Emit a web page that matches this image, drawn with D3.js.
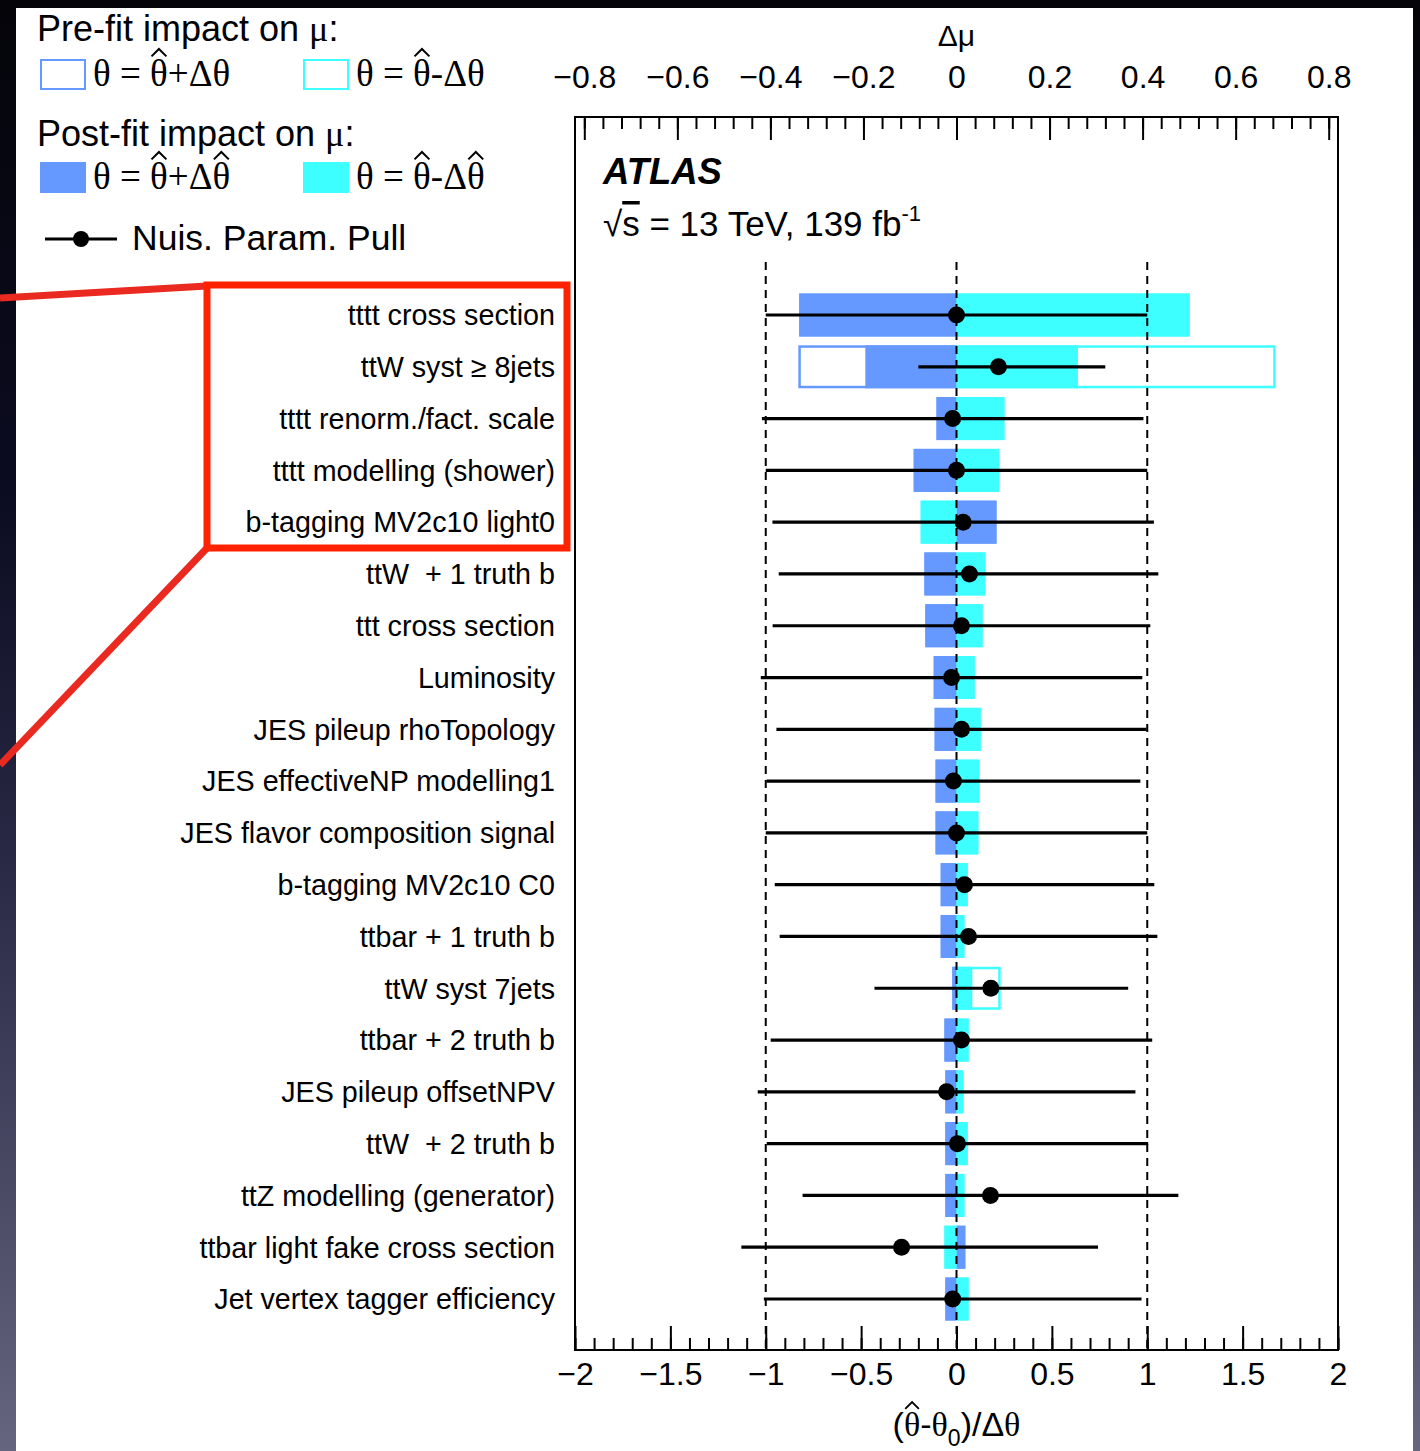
<!DOCTYPE html>
<html>
<head>
<meta charset="utf-8">
<script src="https://cdn.jsdelivr.net/npm/d3@7"></script>
<style>
  body { margin: 0; background: #000; }
  svg { display: block; }
  text { font-family: "Liberation Sans", Arial, sans-serif; fill: #000; }
  .serif { font-family: "Liberation Serif", "Times New Roman", serif; }
</style>
</head>
<body>
<svg id="chart" width="1420" height="1451"></svg>
<script>
// nuisance parameters, ranked top to bottom
var params = [
  "tttt cross section",
  "ttW syst \u2265 8jets",
  "tttt renorm./fact. scale",
  "tttt modelling (shower)",
  "b-tagging MV2c10 light0",
  "ttW  + 1 truth b",
  "ttt cross section",
  "Luminosity",
  "JES pileup rhoTopology",
  "JES effectiveNP modelling1",
  "JES flavor composition signal",
  "b-tagging MV2c10 C0",
  "ttbar + 1 truth b",
  "ttW syst 7jets",
  "ttbar + 2 truth b",
  "JES pileup offsetNPV",
  "ttW  + 2 truth b",
  "ttZ modelling (generator)",
  "ttbar light fake cross section",
  "Jet vertex tagger efficiency"
];

// post-fit impact on mu (theta = thetahat +/- dthetahat)
var postUp   = [-0.338, -0.196, -0.043, -0.092,  0.086, -0.069, -0.067, -0.049, -0.047, -0.045,
                -0.045, -0.034, -0.034, -0.009, -0.026, -0.024, -0.024, -0.024,  0.019, -0.024];
var postDown = [ 0.501,  0.261,  0.103,  0.092, -0.077,  0.062,  0.056,  0.039,  0.052,  0.049,
                 0.047,  0.024,  0.017,  0.034,  0.026,  0.015,  0.024,  0.017, -0.026,  0.026];
// pre-fit impact on mu (theta = thetahat +/- dtheta)
var preUp    = [-0.338, -0.340, -0.043, -0.092,  0.086, -0.069, -0.067, -0.049, -0.047, -0.045,
                -0.045, -0.034, -0.034, -0.009, -0.026, -0.024, -0.024, -0.024,  0.019, -0.024];
var preDown  = [ 0.501,  0.686,  0.103,  0.092, -0.077,  0.062,  0.056,  0.039,  0.052,  0.049,
                 0.047,  0.024,  0.017,  0.095,  0.026,  0.015,  0.024,  0.017, -0.026,  0.026];

// pulls (thetahat - theta0)/dtheta with errors
var pull      = [0.0, 0.22, -0.02, 0.0, 0.035, 0.068, 0.026, -0.026, 0.026, -0.016,
                 0.0, 0.042, 0.063, 0.18, 0.026, -0.052, 0.005, 0.178, -0.288, -0.02];
var pullErrLo = [1.0, 0.42, 1.0, 1.0, 1.0, 1.0, 0.99, 1.0, 0.97, 0.98,
                 1.0, 0.995, 0.99, 0.61, 1.0, 0.99, 1.0, 0.985, 0.84, 0.99];
var pullErrHi = [1.0, 0.56, 1.0, 1.0, 1.0, 0.99, 0.99, 1.0, 0.97, 0.98,
                 1.0, 0.995, 0.99, 0.72, 1.0, 0.99, 1.0, 0.985, 1.03, 0.99];

var pullTicks = d3.range(-2, 2.001, 0.5);
var pullMinor = d3.range(-2, 2.001, 0.1);
var muTicks = d3.range(-0.8, 0.801, 0.2);
var muMinor = d3.range(-0.8, 0.801, 0.04);

var BLUE = "#6699ff", CYAN = "#3dffff";

var svg = d3.select("#chart");
var W = 1420, H = 1451;

// slide background around the white page
var defs = svg.append("defs");
var grad = defs.append("linearGradient").attr("id", "edge").attr("x1", 0).attr("y1", 0).attr("x2", 0).attr("y2", 1);
grad.append("stop").attr("offset", "0").attr("stop-color", "#040409");
grad.append("stop").attr("offset", "0.35").attr("stop-color", "#0c0c22");
grad.append("stop").attr("offset", "0.6").attr("stop-color", "#2a2a46");
grad.append("stop").attr("offset", "1").attr("stop-color", "#65657f");
svg.append("rect").attr("width", W).attr("height", H).attr("fill", "url(#edge)");
svg.append("rect").attr("x", 16).attr("y", 8).attr("width", 1397).attr("height", H - 8).attr("fill", "#fff");

var frame = {left: 575, right: 1338, top: 117, bottom: 1350};

var x = d3.scaleLinear().domain([-2, 2]).range([frame.left, frame.right]);
var xMu = d3.scaleLinear().domain([-0.82, 0.82]).range([frame.left, frame.right]);
var y = d3.scalePoint().domain(params).range([315, 1299]);
var barH = y.step() * 0.83;

var fmt = function(d) { return Math.abs(d) < 1e-9 ? "0" : d3.format("")(+d.toFixed(2)).replace("-", "\u2212"); };

// draws a circumflex over character idx of a text node
function hat(node, idx, fs, baseline) {
  var r = node.getExtentOfChar(idx);
  var x0 = r.x + r.width * 0.08, x1 = r.x + r.width * 0.92;
  svg.append("path")
    .attr("d", "M" + x0 + "," + (baseline - 0.8 * fs) + "L" + (x0 + x1) / 2 + "," + (baseline - 1.0 * fs) + "L" + x1 + "," + (baseline - 0.8 * fs))
    .attr("fill", "none").attr("stroke", "#000").attr("stroke-width", fs * 0.055);
}

// bars: pre-fit outlines then post-fit fills
var rows = params.map(function(p, i) {
  return {name: p, preUp: preUp[i], preDown: preDown[i], postUp: postUp[i], postDown: postDown[i],
          pull: pull[i], lo: pullErrLo[i], hi: pullErrHi[i]};
});

function barX(v) { return Math.min(xMu(0), xMu(v)); }
function barW(v) { return Math.abs(xMu(v) - xMu(0)); }

var sw = 2.5;
[["preUp", BLUE], ["preDown", CYAN]].forEach(function(s) {
  svg.append("g").selectAll("rect").data(rows).join("rect")
    .attr("x", function(d) { return barX(d[s[0]]) + sw / 2; })
    .attr("y", function(d) { return y(d.name) - barH / 2 + sw / 2; })
    .attr("width", function(d) { return Math.max(0, barW(d[s[0]]) - sw); })
    .attr("height", barH - sw)
    .attr("fill", "#fff")
    .attr("stroke", s[1])
    .attr("stroke-width", sw);
});
[["postUp", BLUE], ["postDown", CYAN]].forEach(function(s) {
  svg.append("g").selectAll("rect").data(rows).join("rect")
    .attr("x", function(d) { return barX(d[s[0]]); })
    .attr("y", function(d) { return y(d.name) - barH / 2; })
    .attr("width", function(d) { return barW(d[s[0]]); })
    .attr("height", barH)
    .attr("fill", s[1]);
});

// dashed reference lines at -1, 0, 1
svg.append("g").selectAll("line").data([-1, 0, 1]).join("line")
  .attr("x1", function(d) { return x(d); }).attr("x2", function(d) { return x(d); })
  .attr("y1", 262).attr("y2", frame.bottom)
  .attr("stroke", "#000").attr("stroke-width", 2).attr("stroke-dasharray", "8,6");

// pulls
svg.append("g").selectAll("line").data(rows).join("line")
  .attr("x1", function(d) { return x(d.pull - d.lo); })
  .attr("x2", function(d) { return x(d.pull + d.hi); })
  .attr("y1", function(d) { return y(d.name); })
  .attr("y2", function(d) { return y(d.name); })
  .attr("stroke", "#000").attr("stroke-width", 3.2);
svg.append("g").selectAll("circle").data(rows).join("circle")
  .attr("cx", function(d) { return x(d.pull); })
  .attr("cy", function(d) { return y(d.name); })
  .attr("r", 8.5).attr("fill", "#000");

// parameter labels
svg.append("g").selectAll("text").data(params).join("text")
  .attr("x", 555).attr("y", function(d) { return y(d); })
  .attr("dy", "0.36em")
  .attr("text-anchor", "end")
  .attr("font-size", 28.7)
  .style("white-space", "pre")
  .text(function(d) { return d; });

// frame
svg.append("rect")
  .attr("x", frame.left).attr("y", frame.top)
  .attr("width", frame.right - frame.left).attr("height", frame.bottom - frame.top)
  .attr("fill", "none").attr("stroke", "#000").attr("stroke-width", 2);

// bottom axis (pull), minor and major ticks in separate groups
var gbMinor = svg.append("g").attr("transform", "translate(0," + frame.bottom + ")")
  .call(d3.axisBottom(x).tickValues(pullMinor).tickSize(-12).tickFormat(""));
var gb = svg.append("g").attr("transform", "translate(0," + frame.bottom + ")")
  .call(d3.axisBottom(x).tickValues(pullTicks).tickSize(-24).tickPadding(12).tickFormat(fmt));

// top axis (delta mu)
var gtMinor = svg.append("g").attr("transform", "translate(0," + frame.top + ")")
  .call(d3.axisTop(xMu).tickValues(muMinor).tickSize(-12).tickFormat(""));
var gt = svg.append("g").attr("transform", "translate(0," + frame.top + ")")
  .call(d3.axisTop(xMu).tickValues(muTicks).tickSize(-23).tickPadding(29).tickFormat(fmt));

[gbMinor, gb, gtMinor, gt].forEach(function(g) {
  g.selectAll(".domain").remove();
  g.selectAll("line").attr("stroke-width", 2);
  g.selectAll("text").attr("font-size", 32).attr("font-family", "Liberation Sans, Arial, sans-serif").attr("fill", "#000");
});

// axis titles
svg.append("text").attr("x", xMu(0)).attr("y", 46).attr("text-anchor", "middle")
  .attr("font-size", 30).text("\u0394\u03bc");
var xtSize = 34, xtBase = 1436;
var xt = svg.append("text").attr("x", x(0)).attr("y", xtBase).attr("text-anchor", "middle").attr("font-size", xtSize);
xt.append("tspan").text("(");
xt.append("tspan").attr("class", "serif").text("\u03b8");
xt.append("tspan").text("-");
xt.append("tspan").attr("class", "serif").text("\u03b8");
xt.append("tspan").attr("font-size", 23).attr("dy", 10).text("0");
xt.append("tspan").attr("dy", -10).text(")/\u0394");
xt.append("tspan").attr("class", "serif").text("\u03b8");
hat(xt.node(), 1, xtSize, xtBase);

// ATLAS label
svg.append("text").attr("x", 603).attr("y", 184).attr("font-size", 36.5)
  .attr("font-weight", "bold").attr("font-style", "italic").text("ATLAS");
var lum = svg.append("text").attr("x", 603).attr("y", 236).attr("font-size", 35);
lum.append("tspan").text("\u221a");
lum.append("tspan").style("text-decoration", "overline").text("s");
lum.append("tspan").text(" = 13 TeV, 139 fb");
lum.append("tspan").attr("font-size", 22).attr("dy", -15).text("-1");

// legend
var t1 = svg.append("text").attr("x", 37).attr("y", 41).attr("font-size", 36);
t1.append("tspan").text("Pre-fit impact on ");
t1.append("tspan").attr("class", "serif").text("\u03bc");
t1.append("tspan").text(":");
var t2 = svg.append("text").attr("x", 37).attr("y", 146).attr("font-size", 36);
t2.append("tspan").text("Post-fit impact on ");
t2.append("tspan").attr("class", "serif").text("\u03bc");
t2.append("tspan").text(":");

var legSize = 37;
var legItems = [
  {x: 40, y: 59, fill: "#fff", stroke: BLUE, label: "\u03b8 = \u03b8+\u0394\u03b8", hats: [4]},
  {x: 303, y: 59, fill: "#fff", stroke: CYAN, label: "\u03b8 = \u03b8-\u0394\u03b8", hats: [4]},
  {x: 40, y: 162, fill: BLUE, stroke: BLUE, label: "\u03b8 = \u03b8+\u0394\u03b8", hats: [4, 7]},
  {x: 303, y: 162, fill: CYAN, stroke: CYAN, label: "\u03b8 = \u03b8-\u0394\u03b8", hats: [4, 7]}
];
legItems.forEach(function(d) {
  svg.append("rect")
    .attr("x", d.x + 1).attr("y", d.y + 1)
    .attr("width", 44).attr("height", 29)
    .attr("fill", d.fill).attr("stroke", d.stroke).attr("stroke-width", 2);
  var base = d.y + 27;
  var t = svg.append("text").attr("class", "serif")
    .attr("x", d.x + 53).attr("y", base)
    .attr("font-size", legSize)
    .text(d.label);
  d.hats.forEach(function(i) { hat(t.node(), i, legSize, base); });
});

svg.append("line").attr("x1", 45).attr("x2", 117).attr("y1", 239).attr("y2", 239)
  .attr("stroke", "#000").attr("stroke-width", 3.2);
svg.append("circle").attr("cx", 81).attr("cy", 239).attr("r", 8).attr("fill", "#000");
svg.append("text").attr("x", 132).attr("y", 250).attr("font-size", 35.5).text("Nuis. Param. Pull");

// red highlight annotation
var RED = "#ff2200";
svg.append("line").attr("x1", 0).attr("y1", 298).attr("x2", 207).attr("y2", 286)
  .attr("stroke", "#ea2a20").attr("stroke-width", 7);
svg.append("line").attr("x1", 207).attr("y1", 548).attr("x2", 0).attr("y2", 765)
  .attr("stroke", "#ea2a20").attr("stroke-width", 7);
svg.append("rect").attr("x", 207).attr("y", 285).attr("width", 360).attr("height", 263)
  .attr("fill", "none").attr("stroke", RED).attr("stroke-width", 7);

// right-hand slide edge
svg.append("rect").attr("x", 1413).attr("y", 0).attr("width", 7).attr("height", H).attr("fill", "url(#edge)");
</script>
</body>
</html>
